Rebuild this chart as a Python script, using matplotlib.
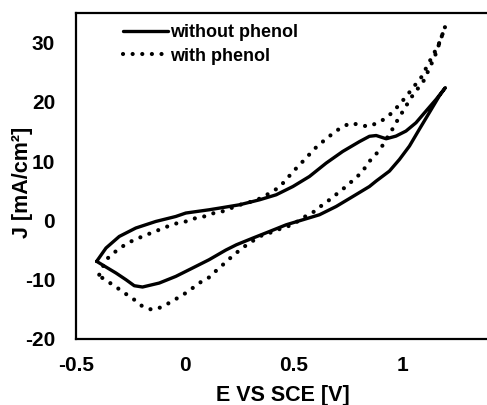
import matplotlib
matplotlib.use("Agg")
import matplotlib.pyplot as plt

# without phenol: forward (upper) branch then return (lower) branch
e_no = [-0.405, -0.362, -0.301, -0.225, -0.133, -0.041, 0.005, 0.112, 0.161, 0.253,
        0.345, 0.421, 0.498, 0.574, 0.651, 0.727, 0.804, 0.850, 0.881, 0.927,
        0.972, 1.018, 1.064, 1.110, 1.156, 1.199,
        1.171, 1.125, 1.079, 1.034, 0.988, 0.942, 0.881, 0.850, 0.774, 0.697,
        0.620, 0.544, 0.467, 0.391, 0.314, 0.238, 0.189, 0.112, 0.036, -0.041,
        -0.117, -0.194, -0.232, -0.270, -0.316, -0.362, -0.405]
j_no = [-6.9, -4.65, -2.7, -1.28, -0.17, 0.67, 1.25, 1.8, 2.09, 2.65,
        3.49, 4.33, 5.73, 7.42, 9.68, 11.64, 13.3, 14.2, 14.33, 13.78,
        14.23, 15.08, 16.48, 18.45, 20.4, 22.4,
        20.98, 18.16, 15.35, 12.55, 10.29, 8.33, 6.65, 5.73, 4.05, 2.36,
        0.96, 0.12, -0.73, -1.85, -2.97, -4.1, -5.0, -6.63, -8.03, -9.44,
        -10.56, -11.23, -11.01, -10.0, -8.87, -7.86, -6.9]

# with phenol
e_ph = [-0.393, -0.362, -0.324, -0.286, -0.247, -0.201, -0.163, -0.117, -0.079, -0.033,
        0.005, 0.051, 0.089, 0.135, 0.173, 0.25, 0.30, 0.353, 0.391, 0.429,
        0.460, 0.490, 0.521, 0.551, 0.582, 0.616, 0.651, 0.686, 0.724, 0.763,
        0.804, 0.842, 0.857, 0.896, 0.934, 0.965, 0.995, 1.026, 1.056, 1.087,
        1.125, 1.148, 1.168, 1.184, 1.199,
        1.15, 1.10, 1.041, 0.995, 0.972, 0.949, 0.926, 0.904, 0.873, 0.842,
        0.819, 0.786, 0.751, 0.715, 0.681, 0.648, 0.613, 0.597, 0.566, 0.528,
        0.482, 0.437, 0.398, 0.360, 0.322, 0.286, 0.250, 0.215, 0.181, 0.146,
        0.115, 0.078, 0.043, 0.005, -0.033, -0.072, -0.110, -0.151, -0.194, -0.232,
        -0.270, -0.309, -0.347, -0.385, -0.393]
j_ph = [-9.16, -6.63, -5.4, -4.38, -3.54, -2.8, -2.24, -1.57, -1.01, -0.44,
        -0.17, 0.4, 0.67, 1.25, 1.52, 2.6, 3.1, 3.78, 4.62, 5.46,
        6.58, 7.88, 9.11, 10.24, 11.47, 12.77, 13.73, 14.84, 15.75, 16.43,
        16.14, 15.85, 16.02, 16.59, 17.49, 18.62, 19.85, 21.25, 22.66, 24.06,
        26.71, 28.28, 29.68, 31.2, 32.78,
        27.6, 23.6, 20.69, 17.88, 16.48, 14.96, 13.66, 12.26, 10.86, 9.68,
        8.26, 7.15, 6.02, 4.89, 3.95, 2.93, 2.09, 1.52, 0.96, 0.0,
        -0.89, -1.45, -2.02, -2.41, -3.25, -4.1, -5.1, -6.17, -7.3, -8.43,
        -9.55, -10.29, -11.23, -12.24, -13.09, -13.93, -14.67, -15.06, -14.5, -13.37,
        -12.41, -11.4, -10.46, -9.55, -9.16]

x_ticks = [-0.5, 0, 0.5, 1]
x_labels = ["-0.5", "0", "0.5", "1"]
y_ticks = [-20, -10, 0, 10, 20, 30]

plt.rcParams['font.family'] = ['Liberation Sans', 'DejaVu Sans']
plt.rcParams['font.weight'] = 'bold'
plt.rcParams['axes.unicode_minus'] = False

fig = plt.figure(figsize=(4.87, 4.05), dpi=100)
ax = fig.add_axes([76 / 487, 66 / 405, 413 / 487, 326 / 405])

ax.plot(e_no, j_no, color='black', lw=2.4, solid_joinstyle='round',
        solid_capstyle='round', label='without phenol')
ax.plot(e_ph, j_ph, color='black', lw=3.0, linestyle=(0, (0.01, 2.3)),
        dash_capstyle='round', label='with phenol')

ax.set_xlim(-0.5, 1.4)
ax.set_ylim(-20, 35)
ax.set_xticks(x_ticks)
ax.set_xticklabels(x_labels)
ax.set_yticks(y_ticks)
ax.tick_params(axis='both', length=0, labelsize=15)
ax.tick_params(axis='x', pad=12)
ax.tick_params(axis='y', pad=15)
for lab in ax.get_xticklabels() + ax.get_yticklabels():
    lab.set_fontweight('bold')

for s in ax.spines.values():
    s.set_linewidth(1.6)

ax.set_xlabel('E VS SCE [V]', fontsize=15.5, fontweight='bold')
ax.set_ylabel('J [mA/cm²]', fontsize=15.5, fontweight='bold')
ax.xaxis.set_label_coords(0.5, -0.14)
ax.yaxis.set_label_coords(-0.104, 0.479)

ax.legend(loc='upper left', bbox_to_anchor=(0.114, 0.965), frameon=False,
          borderpad=0, borderaxespad=0, handlelength=2.5, handletextpad=0.1,
          labelspacing=0.35, prop={'size': 13, 'weight': 'bold'})

fig.savefig('out.png', dpi=100)
